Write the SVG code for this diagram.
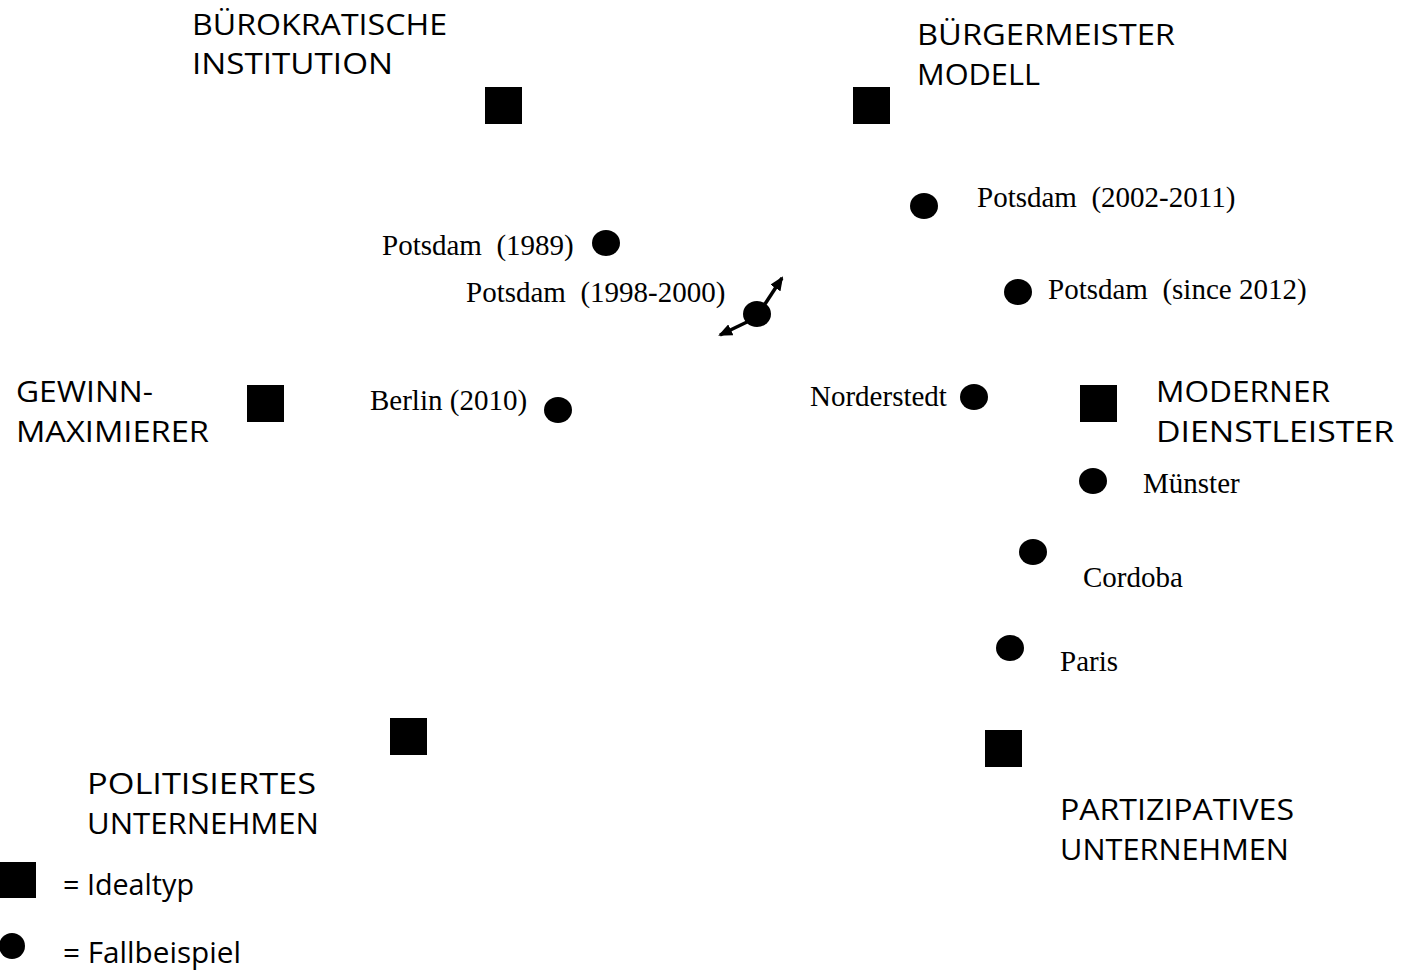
<svg xmlns="http://www.w3.org/2000/svg" width="1404" height="971" viewBox="0 0 1404 971" xml:space="preserve">
<style>
.bg{fill:#fff}
.ideal{fill:#000}
.case{fill:#000}
text{white-space:pre}
.h{font-family:"Open Sans","Noto Sans","DejaVu Sans",sans-serif;font-size:30px;fill:#000}
.c{font-family:"Liberation Serif","Times New Roman",serif;font-size:29px;fill:#000}
.arr{stroke:#000;stroke-width:3.5;fill:none;marker-end:url(#ah)}
</style>
<defs>
<marker id="ah" viewBox="0 0 14 12" refX="12" refY="6" markerWidth="14" markerHeight="12" orient="auto" markerUnits="userSpaceOnUse">
<path d="M0,0 L14,6 L0,12 z" fill="#000"/>
</marker>
</defs>
<rect class="bg" x="0" y="0" width="1404" height="971"/>

<g id="buerokratische-institution">
<rect class="ideal" x="485" y="87" width="37" height="37"/>
<text class="h" x="192" y="35" textLength="255" lengthAdjust="spacingAndGlyphs">BÜROKRATISCHE</text>
<text class="h" x="192" y="74" textLength="201" lengthAdjust="spacingAndGlyphs">INSTITUTION</text>
</g>
<g id="buergermeister-modell">
<rect class="ideal" x="853" y="87" width="37" height="37"/>
<text class="h" x="917" y="45" textLength="258" lengthAdjust="spacingAndGlyphs">BÜRGERMEISTER</text>
<text class="h" x="917" y="85" textLength="123" lengthAdjust="spacingAndGlyphs">MODELL</text>
</g>
<g id="gewinnmaximierer">
<rect class="ideal" x="247" y="385" width="37" height="37"/>
<text class="h" x="16" y="402" textLength="137" lengthAdjust="spacingAndGlyphs">GEWINN-</text>
<text class="h" x="16" y="442" textLength="193" lengthAdjust="spacingAndGlyphs">MAXIMIERER</text>
</g>
<g id="moderner-dienstleister">
<rect class="ideal" x="1080" y="385" width="37" height="37"/>
<text class="h" x="1156" y="402" textLength="174" lengthAdjust="spacingAndGlyphs">MODERNER</text>
<text class="h" x="1156" y="442" textLength="238" lengthAdjust="spacingAndGlyphs">DIENSTLEISTER</text>
</g>
<g id="politisiertes-unternehmen">
<rect class="ideal" x="390" y="718" width="37" height="37"/>
<text class="h" x="87" y="794" textLength="229" lengthAdjust="spacingAndGlyphs">POLITISIERTES</text>
<text class="h" x="87" y="834" textLength="232" lengthAdjust="spacingAndGlyphs">UNTERNEHMEN</text>
</g>
<g id="partizipatives-unternehmen">
<rect class="ideal" x="985" y="730" width="37" height="37"/>
<text class="h" x="1060" y="820" textLength="234" lengthAdjust="spacingAndGlyphs">PARTIZIPATIVES</text>
<text class="h" x="1060" y="860" textLength="229" lengthAdjust="spacingAndGlyphs">UNTERNEHMEN</text>
</g>

<g id="potsdam-1989">
<ellipse class="case" cx="606" cy="243" rx="14" ry="13"/>
<text class="c" x="382" y="255">Potsdam  (1989)</text>
</g>
<g id="potsdam-1998-2000">
<ellipse class="case" cx="757" cy="314" rx="14" ry="13"/>
<text class="c" x="466" y="302">Potsdam  (1998-2000)</text>
</g>
<g id="potsdam-2002-2011">
<ellipse class="case" cx="924" cy="206" rx="14" ry="13"/>
<text class="c" x="977" y="207">Potsdam  (2002-2011)</text>
</g>
<g id="potsdam-since-2012">
<ellipse class="case" cx="1018" cy="292" rx="14" ry="13"/>
<text class="c" x="1048" y="299">Potsdam  (since 2012)</text>
</g>
<g id="berlin-2010">
<ellipse class="case" cx="558" cy="410" rx="14" ry="13"/>
<text class="c" x="370" y="410">Berlin (2010)</text>
</g>
<g id="norderstedt">
<ellipse class="case" cx="974" cy="397" rx="14" ry="13"/>
<text class="c" x="810" y="406">Norderstedt</text>
</g>
<g id="muenster">
<ellipse class="case" cx="1093" cy="481" rx="14" ry="13"/>
<text class="c" x="1143" y="493">Münster</text>
</g>
<g id="cordoba">
<ellipse class="case" cx="1033" cy="552" rx="14" ry="13"/>
<text class="c" x="1083" y="587">Cordoba</text>
</g>
<g id="paris">
<ellipse class="case" cx="1010" cy="648" rx="14" ry="13"/>
<text class="c" x="1060" y="671">Paris</text>
</g>

<g id="legend">
<rect class="ideal" x="0" y="862" width="36" height="36"/>
<text class="h" x="63" y="895" textLength="131" lengthAdjust="spacingAndGlyphs">= Idealtyp</text>
<ellipse class="case" cx="12" cy="946" rx="13" ry="13"/>
<text class="h" x="63" y="963" textLength="178" lengthAdjust="spacingAndGlyphs">= Fallbeispiel</text>
</g>

<g id="connectors">
<line class="arr" x1="765" y1="304" x2="782" y2="278"/>
<line class="arr" x1="747" y1="322" x2="720" y2="335"/>
</g>
</svg>
